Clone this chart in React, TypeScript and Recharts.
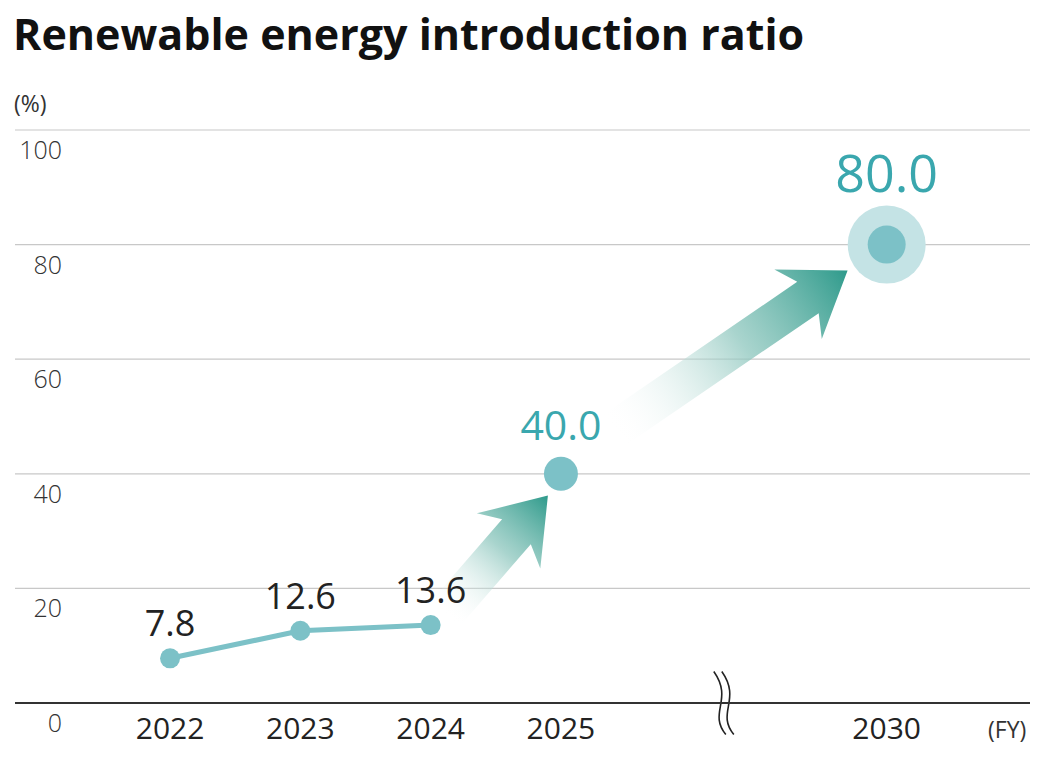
import React from 'react';
import {
  ComposedChart,
  Line,
  Scatter,
  XAxis,
  YAxis,
  CartesianGrid,
  ReferenceLine,
  LabelList,
} from 'recharts';

// fiscal years and their slot on the (broken) x axis
const years = ['2022', '2023', '2024', '2025', '2030'];
const slots = [0, 1, 2, 3, 5.5];
const ratios = [7.8, 12.6, 13.6, 40.0, 80.0];
const yTicks = [0, 20, 40, 60, 80, 100];
const breakSlot = 4.25;

const actual = years.slice(0, 3).map((y, i) => ({ year: y, x: slots[i], ratio: ratios[i] }));
const target2025 = [{ year: years[3], x: slots[3], ratio: ratios[3] }];
const target2030 = [{ year: years[4], x: slots[4], ratio: ratios[4] }];

// decorative arrows (tail -> tip) in data units
const arrows = [
  { from: { x: 2.11, y: 15.5 }, to: { x: 2.9, y: 36.2 }, id: 'a1' },
  { from: { x: 3.4, y: 47.5 }, to: { x: 5.2, y: 75.5 }, id: 'a2' },
];

const FONT = '"Open Sans", "Noto Sans", sans-serif';
const DOT = '#7cc1c7';
const TEAL = '#3aa7ae';

function Arrow(props: any) {
  const { x1, y1, x2, y2, gid } = props;
  const dx = x2 - x1;
  const dy = y2 - y1;
  const len = Math.sqrt(dx * dx + dy * dy);
  const ux = dx / len;
  const uy = dy / len;
  const nx = -uy;
  const ny = ux;
  const w = 19;
  const hw = 42;
  const hl = 48;
  const back = 12;
  const neckX = x2 - ux * hl;
  const neckY = y2 - uy * hl;
  const pts = [
    [x1 + nx * w, y1 + ny * w],
    [neckX + nx * w, neckY + ny * w],
    [neckX - ux * back + nx * hw, neckY - uy * back + ny * hw],
    [x2, y2],
    [neckX - ux * back - nx * hw, neckY - uy * back - ny * hw],
    [neckX - nx * w, neckY - ny * w],
    [x1 - nx * w, y1 - ny * w],
  ];
  return (
    <g>
      <defs>
        <linearGradient id={gid} gradientUnits="userSpaceOnUse" x1={x1} y1={y1} x2={x2} y2={y2}>
          <stop offset="0%" stopColor="#ffffff" stopOpacity={0} />
          <stop offset="55%" stopColor="#8cc6bd" stopOpacity={0.75} />
          <stop offset="100%" stopColor="#2e9a8b" stopOpacity={1} />
        </linearGradient>
      </defs>
      <polygon points={pts.map((p) => p.join(',')).join(' ')} fill={`url(#${gid})`} />
    </g>
  );
}

function BreakMark(props: any) {
  const { x1, y1, y2 } = props;
  const h = y2 - y1;
  const wave = (ox: number) =>
    `M${x1 + ox + 6},${y1} C${x1 + ox - 12},${y1 + h * 0.35} ${x1 + ox + 14},${y1 + h * 0.55} ${x1 + ox - 6},${y2}`;
  return (
    <g>
      <path d={wave(0)} stroke="#ffffff" strokeWidth={7} fill="none" />
      <path d={wave(-4)} stroke="#222" strokeWidth={1.6} fill="none" />
      <path d={wave(4)} stroke="#222" strokeWidth={1.6} fill="none" />
    </g>
  );
}

function YTick(props: any) {
  const { x, y, payload } = props;
  return (
    <text x={x + 47} y={y + 29} textAnchor="end" fontSize={25} fill="#333" fontWeight={300} fontFamily={FONT}>
      {payload.value}
    </text>
  );
}

function XTick(props: any) {
  const { x, y, payload } = props;
  const idx = slots.indexOf(payload.value);
  return (
    <text x={x} y={y + 28} textAnchor="middle" fontSize={30} fill="#222" fontFamily={FONT}>
      {years[idx]}
    </text>
  );
}

function ValueLabel(props: any) {
  const { x, y, value } = props;
  return (
    <text x={x} y={y - 22} textAnchor="middle" fontSize={36} fill="#222" fontFamily={FONT}>
      {Number(value).toFixed(1)}
    </text>
  );
}

function Dot2025(props: any) {
  const { cx, cy } = props;
  return <circle cx={cx} cy={cy} r={17} fill={DOT} />;
}

function Dot2030(props: any) {
  const { cx, cy } = props;
  return (
    <g>
      <circle cx={cx} cy={cy} r={39} fill="#c4e3e5" />
      <circle cx={cx} cy={cy} r={19} fill={DOT} />
    </g>
  );
}

function TargetLabel(size: number, gap: number) {
  return (props: any) => {
    const { x, y, width, value } = props;
    const cx = x + (width || 0) / 2;
    return (
      <text x={cx} y={y - gap} textAnchor="middle" fontSize={size} fill={TEAL} fontWeight={500} fontFamily={FONT}>
        {Number(value).toFixed(1)}
      </text>
    );
  };
}

export default function App() {
  return (
    <div style={{ position: 'absolute', left: 0, top: 0, width: 1046, height: 761, background: '#fff', fontFamily: FONT }}>
      <div style={{ position: 'absolute', left: 13, top: 4, fontSize: 43, fontWeight: 700, color: '#111', whiteSpace: 'nowrap' }}>
        Renewable energy introduction ratio
      </div>
      <div style={{ position: 'absolute', left: 14, top: 87, fontSize: 23, color: '#333' }}>(%)</div>
      <div style={{ position: 'absolute', left: 988, top: 713, fontSize: 23, color: '#333' }}>(FY)</div>
      <ComposedChart width={1046} height={761} margin={{ top: 130, right: 16, bottom: 18, left: 0 }}>
        <CartesianGrid horizontal vertical={false} stroke="#c8c8c8" strokeWidth={1.2} />
        <XAxis
          dataKey="x"
          type="number"
          domain={[-1.19, 6.6]}
          ticks={slots}
          tick={<XTick />}
          tickLine={false}
          axisLine={{ stroke: '#333', strokeWidth: 2 }}
          height={40}
          allowDataOverflow
        />
        <YAxis
          type="number"
          domain={[0, 100]}
          ticks={yTicks}
          tickSize={0}
          tickMargin={0}
          axisLine={false}
          tickLine={false}
          tick={<YTick />}
          width={15}
        />
        {arrows.map((a) => (
          <ReferenceLine
            key={a.id}
            segment={[a.from, a.to]}
            shape={(p: any) => <Arrow {...p} gid={a.id} />}
          />
        ))}
        <ReferenceLine
          segment={[
            { x: breakSlot, y: -5.5 },
            { x: breakSlot, y: 5.5 },
          ]}
          ifOverflow="visible"
          shape={(p: any) => <BreakMark {...p} />}
        />
        <Line
          data={actual}
          dataKey="ratio"
          stroke={DOT}
          strokeWidth={5}
          dot={{ r: 10, fill: DOT, stroke: 'none' }}
          activeDot={false}
          isAnimationActive={false}
        >
          <LabelList dataKey="ratio" content={<ValueLabel />} />
        </Line>
        <Scatter data={target2025} dataKey="ratio" shape={<Dot2025 />} isAnimationActive={false}>
          <LabelList dataKey="ratio" content={TargetLabel(41, 29)} />
        </Scatter>
        <Scatter data={target2030} dataKey="ratio" shape={<Dot2030 />} isAnimationActive={false}>
          <LabelList dataKey="ratio" content={TargetLabel(52, 48)} />
        </Scatter>
      </ComposedChart>
    </div>
  );
}
